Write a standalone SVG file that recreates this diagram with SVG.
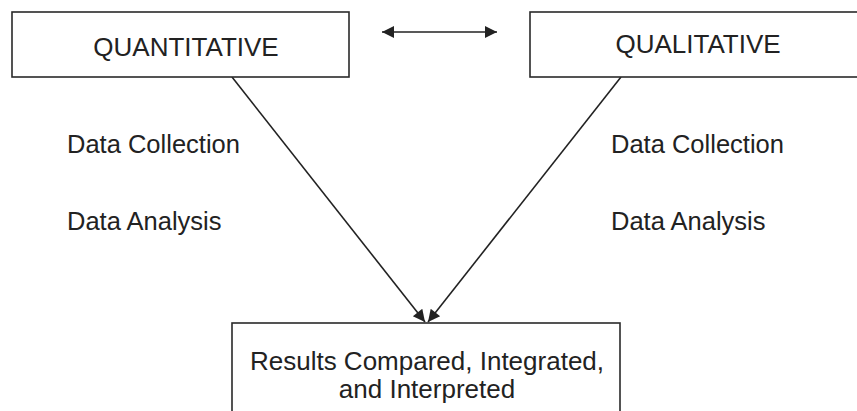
<svg xmlns="http://www.w3.org/2000/svg" width="857" height="411" viewBox="0 0 857 411">
<defs>
<style>
.box{fill:#fff;stroke:#2a2a2a;stroke-width:1.6}
.t{font-family:"Liberation Sans",Arial,sans-serif;font-size:26px;fill:#222}
.lbl{font-family:"Liberation Sans",Arial,sans-serif;font-size:25.5px;fill:#222}
.ln{stroke:#222;stroke-width:1.6;fill:none}
</style>
<marker id="ah2" viewBox="0 0 10 10" refX="10" refY="5" markerWidth="15" markerHeight="12" markerUnits="userSpaceOnUse" orient="auto-start-reverse">
<path d="M0,0 L10,5 L0,10 z" fill="#222"/>
</marker>
</defs>
<rect width="857" height="411" fill="#fff"/>
<g id="connectors">
<line class="ln" x1="382" y1="32" x2="497" y2="32" marker-start="url(#ah2)" marker-end="url(#ah2)"/>
<line class="ln" x1="232" y1="77" x2="425" y2="322" marker-end="url(#ah2)"/>
<line class="ln" x1="621" y1="77" x2="428" y2="322" marker-end="url(#ah2)"/>
</g>
<g id="quantitative">
<rect class="box" x="12" y="12" width="337" height="65"/>
<text class="t" x="186" y="56" text-anchor="middle">QUANTITATIVE</text>
</g>
<g id="qualitative">
<rect class="box" x="530" y="12" width="330" height="65"/>
<text class="t" x="698" y="53" text-anchor="middle">QUALITATIVE</text>
</g>
<g id="quant-labels">
<text class="lbl" x="67" y="153">Data Collection</text>
<text class="lbl" x="67" y="230">Data Analysis</text>
</g>
<g id="qual-labels">
<text class="lbl" x="611" y="153">Data Collection</text>
<text class="lbl" x="611" y="230">Data Analysis</text>
</g>
<g id="results">
<rect class="box" x="232" y="323" width="388" height="100"/>
<text class="t" x="427" y="370" text-anchor="middle">Results Compared, Integrated,</text>
<text class="t" x="427" y="398" text-anchor="middle">and Interpreted</text>
</g>
</svg>
